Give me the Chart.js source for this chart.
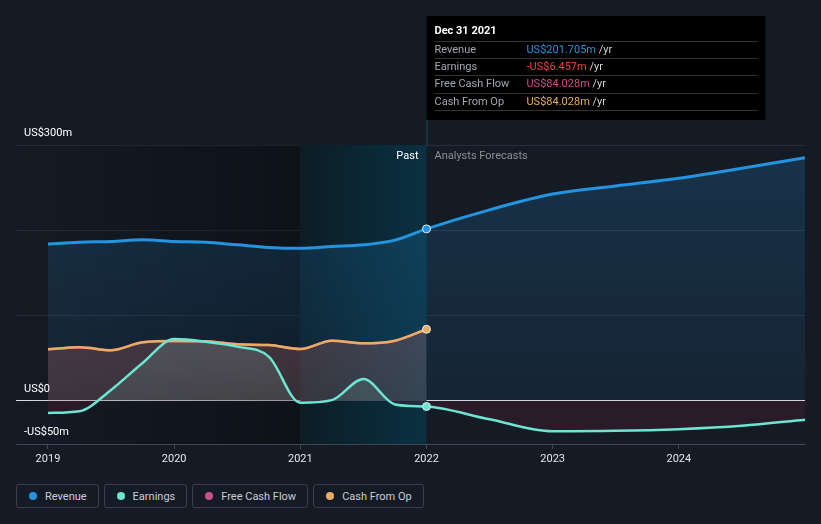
<!DOCTYPE html>
<html>
<head>
<meta charset="utf-8">
<script src="https://cdn.jsdelivr.net/npm/chart.js@4.4.1/dist/chart.umd.min.js"></script>
<style>
  html, body { margin: 0; padding: 0; background: #151b25; }
  body { width: 821px; height: 524px; position: relative; overflow: hidden; font-family: Roboto, "Noto Sans", sans-serif; }
  #contenedor { position: absolute; left: 0; top: 0; width: 821px; height: 470px; }
  #leyenda { position: absolute; left: 16px; top: 484px; display: flex; gap: 5px; }
  .item-leyenda {
    height: 24px; box-sizing: border-box; border: 1px solid #3a404b; border-radius: 3px;
    display: flex; align-items: center; padding: 0 11px 0 12px; color: #c9cdd3; font-size: 11px;
  }
  .punto { width: 8px; height: 8px; border-radius: 50%; margin-right: 8px; }
</style>
</head>
<body>
<div id="contenedor"><canvas id="grafica" width="821" height="470"></canvas></div>
<div id="leyenda"></div>
<script>
// Datos (millones de US$)
const aniosPasado = [2019, 2019.25, 2019.5, 2019.75, 2020, 2020.25, 2020.5, 2020.75, 2021, 2021.25, 2021.5, 2021.75, 2022];
const aniosPrevision = [2022.5, 2023, 2023.5, 2024, 2024.5, 2025];

const ingresosPasado = [184, 186, 187, 189, 187, 186, 183, 180, 179, 181, 183, 188.5, 201.705];
const ingresosPrevision = [224, 242.5, 252, 261, 272.7, 285];

const gananciasPasado = [-14, -12, 13, 44.5, 72.6, 69.5, 63.7, 52, -2, 1, 25.8, -4, -6.457];
const gananciasPrevision = [-21.5, -35.5, -35, -33, -29, -22];

const flujoLibre = [60.6, 63, 59.4, 68.8, 70.3, 70, 66.4, 65.6, 61, 70.7, 67.6, 70.7, 84.028];
const flujoOperativo = [60.6, 63, 59.4, 68.8, 70.3, 70, 66.4, 65.6, 61, 70.7, 67.6, 70.7, 84.028];

const aniosEje = [2019, 2020, 2021, 2022, 2023, 2024];
const etiquetasY = [{ valor: 300, texto: "US$300m" }, { valor: 0, texto: "US$0" }, { valor: -50.4, texto: "-US$50m" }];

const series = [
  { nombre: "Revenue", color: "#2394df" },
  { nombre: "Earnings", color: "#6ce5d3" },
  { nombre: "Free Cash Flow", color: "#c8508a" },
  { nombre: "Cash From Op", color: "#e8ad62" },
];

const filasTooltip = [
  { etiqueta: "Revenue", valor: "US$201.705m", color: "#2394df" },
  { etiqueta: "Earnings", valor: "-US$6.457m", color: "#f0423c" },
  { etiqueta: "Free Cash Flow", valor: "US$84.028m", color: "#c8508a" },
  { etiqueta: "Cash From Op", valor: "US$84.028m", color: "#e8ad62" },
];

const FUENTE = 'Roboto, "Noto Sans", sans-serif';

function juntar(xs, ys) {
  return xs.map((x, i) => ({ x: x, y: ys[i] }));
}

function degradadoVertical(ctx, area, arriba, abajo) {
  const g = ctx.createLinearGradient(0, area.top, 0, area.bottom);
  g.addColorStop(0, arriba);
  g.addColorStop(1, abajo);
  return g;
}

function radioPunto(c) {
  return c.raw && c.raw.x === 2022 ? 4 : 0;
}

// Fondos: zona oscura del pasado y banda del ultimo anio
const pluginFondo = {
  id: "fondo",
  beforeDatasetsDraw(chart) {
    const { ctx, chartArea } = chart;
    const x = chart.scales.x;
    const x2021 = x.getPixelForValue(2021);
    const x2022 = x.getPixelForValue(2022);
    ctx.save();
    let g = ctx.createLinearGradient(chartArea.left, 0, x2021, 0);
    g.addColorStop(0, "rgba(0,0,0,0)");
    g.addColorStop(1, "rgba(0,0,0,0.33)");
    ctx.fillStyle = g;
    ctx.fillRect(chartArea.left, chartArea.top, x2021 - chartArea.left, chartArea.bottom - chartArea.top);

    g = ctx.createLinearGradient(x2021, 0, x2022, 0);
    g.addColorStop(0, "#0c1c25");
    g.addColorStop(1, "#0a3142");
    ctx.fillStyle = g;
    ctx.fillRect(x2021, chartArea.top, x2022 - x2021, chartArea.bottom - chartArea.top);
    ctx.restore();
  },
};

// Textos, linea vertical y recuadro con los valores
const pluginTextos = {
  id: "textos",
  afterDraw(chart) {
    const { ctx, chartArea } = chart;
    const x = chart.scales.x;
    const y = chart.scales.y;
    const x2022 = x.getPixelForValue(2022);
    ctx.save();

    // linea vertical desde el recuadro
    ctx.strokeStyle = "#1c4a5b";
    ctx.lineWidth = 1;
    ctx.beginPath();
    ctx.moveTo(x2022 + 0.5, 120);
    ctx.lineTo(x2022 + 0.5, chartArea.top);
    ctx.stroke();

    ctx.font = "11px " + FUENTE;
    ctx.textBaseline = "middle";
    ctx.fillStyle = "#ffffff";
    etiquetasY.forEach((e) => {
      ctx.fillText(e.texto, 24, y.getPixelForValue(e.valor) - 12);
    });

    ctx.textAlign = "right";
    ctx.fillStyle = "#ffffff";
    ctx.fillText("Past", x2022 - 8, chartArea.top + 11);
    ctx.textAlign = "left";
    ctx.fillStyle = "#8b919a";
    ctx.fillText("Analysts Forecasts", x2022 + 8, chartArea.top + 11);

    // recuadro
    const bx = x2022, by = 16, bw = 339, bh = 104;
    ctx.fillStyle = "#000000";
    ctx.fillRect(bx, by, bw, bh);
    ctx.fillStyle = "#ffffff";
    ctx.font = "bold 11px " + FUENTE;
    ctx.fillText("Dec 31 2021", bx + 8, 31);
    ctx.font = "11px " + FUENTE;
    const lineas = [41.5, 58.5, 75.5, 93.5, 110.5];
    ctx.strokeStyle = "#333333";
    lineas.forEach((ly) => {
      ctx.beginPath();
      ctx.moveTo(bx + 8, ly);
      ctx.lineTo(bx + bw - 8, ly);
      ctx.stroke();
    });
    filasTooltip.forEach((f, i) => {
      const fy = (lineas[i] + lineas[i + 1]) / 2;
      ctx.fillStyle = "#a3a8ae";
      ctx.fillText(f.etiqueta, bx + 8, fy);
      ctx.fillStyle = f.color;
      ctx.fillText(f.valor, bx + 100, fy);
      const w = ctx.measureText(f.valor).width;
      ctx.fillStyle = "#cfd2d6";
      ctx.fillText(" /yr", bx + 100 + w, fy);
    });
    ctx.restore();
  },
};

const ctx = document.getElementById("grafica");

new Chart(ctx, {
  type: "line",
  data: {
    datasets: [
      {
        label: "Earnings",
        data: juntar(aniosPasado.concat(aniosPrevision), gananciasPasado.concat(gananciasPrevision)),
        borderColor: series[1].color,
        borderWidth: 2.5,
        fill: {
          target: "origin",
          above: (c) => c.chart.chartArea ? degradadoVertical(c.chart.ctx, c.chart.chartArea, "rgba(150,215,200,0.35)", "rgba(150,215,200,0.08)") : "rgba(150,215,200,0.2)",
          below: "rgba(110,30,50,0.24)",
        },
        pointRadius: radioPunto,
        pointBackgroundColor: series[1].color,
        pointBorderColor: "#e6e6e6",
        pointBorderWidth: 1,
        order: 1,
      },
      {
        label: "Cash From Op",
        data: juntar(aniosPasado, flujoOperativo),
        borderColor: series[3].color,
        borderWidth: 2.5,
        fill: { target: "origin", above: "rgba(232,173,98,0.08)", below: "rgba(232,173,98,0.08)" },
        pointRadius: radioPunto,
        pointBackgroundColor: series[3].color,
        pointBorderColor: "#e6e6e6",
        pointBorderWidth: 1,
        order: 2,
      },
      {
        label: "Free Cash Flow",
        data: juntar(aniosPasado, flujoLibre),
        borderColor: series[2].color,
        borderWidth: 2.5,
        fill: {
          target: "origin",
          above: (c) => c.chart.chartArea ? degradadoVertical(c.chart.ctx, c.chart.chartArea, "rgba(200,80,110,0.35)", "rgba(200,80,110,0.1)") : "rgba(200,80,110,0.2)",
        },
        pointRadius: 0,
        order: 3,
      },
      {
        label: "Revenue",
        data: juntar(aniosPasado.concat(aniosPrevision), ingresosPasado.concat(ingresosPrevision)),
        borderColor: series[0].color,
        borderWidth: 3,
        fill: {
          target: "origin",
          above: (c) => c.chart.chartArea ? degradadoVertical(c.chart.ctx, c.chart.chartArea, "rgba(35,148,223,0.2)", "rgba(35,148,223,0.06)") : "rgba(35,148,223,0.15)",
        },
        pointRadius: radioPunto,
        pointBackgroundColor: series[0].color,
        pointBorderColor: "#e6e6e6",
        pointBorderWidth: 1,
        order: 4,
      },
    ],
  },
  options: {
    responsive: false,
    animation: false,
    events: [],
    cubicInterpolationMode: "monotone",
    layout: { padding: { left: 16, right: 16, top: 145, bottom: 0 } },
    plugins: { legend: { display: false }, tooltip: { enabled: false } },
    scales: {
      x: {
        type: "linear",
        min: 2018.7465,
        max: 2025,
        afterBuildTicks: (s) => { s.ticks = aniosEje.map((v) => ({ value: v })); },
        afterFit: (s) => { s.height = 26; },
        grid: { drawOnChartArea: false, drawTicks: true, tickLength: 5, color: "#414752" },
        border: { display: true, color: "#414752" },
        ticks: { color: "#e4e6e9", font: { family: FUENTE, size: 11 }, padding: 4, callback: (v) => String(v), maxRotation: 0 },
      },
      y: {
        min: -50.4,
        max: 300,
        afterBuildTicks: (s) => { s.ticks = [0, 100, 200, 300].map((v) => ({ value: v })); },
        afterFit: (s) => { s.width = 0; },
        grid: {
          drawTicks: false,
          color: (c) => (c.tick && c.tick.value === 0 ? "#d9dbde" : "#272e39"),
          lineWidth: 1,
        },
        border: { display: false },
        ticks: { display: false },
      },
    },
  },
  plugins: [pluginFondo, pluginTextos],
});

// Leyenda en HTML
const leyenda = document.getElementById("leyenda");
series.forEach((s) => {
  const item = document.createElement("div");
  item.className = "item-leyenda";
  item.innerHTML = `<span class="punto" style="background:${s.color}"></span>${s.nombre}`;
  leyenda.appendChild(item);
});
</script>
</body>
</html>
